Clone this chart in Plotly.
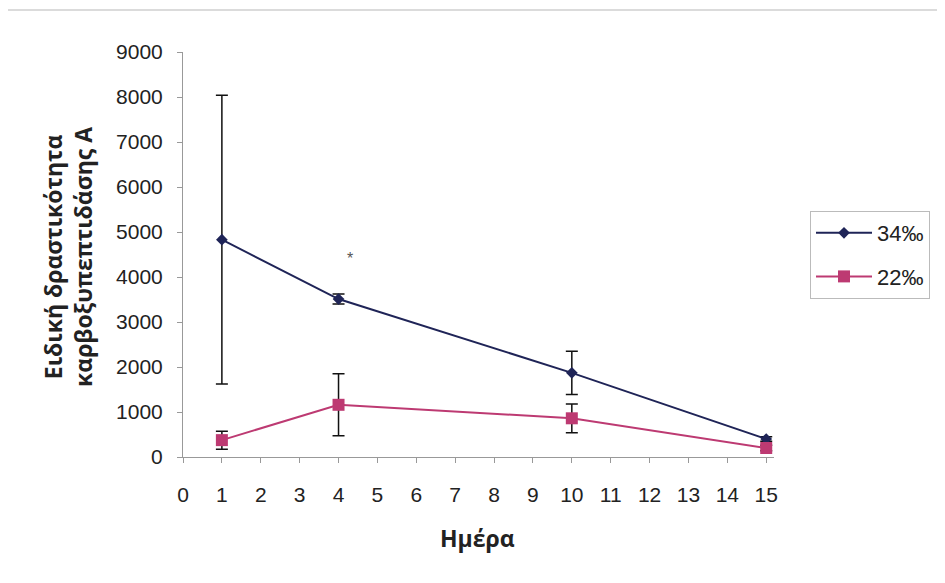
import plotly.graph_objects as go

days = [1, 4, 10, 15]
s34_values = [4830, 3510, 1870, 400]
s34_errors = [3210, 110, 480, 50]
s22_values = [375, 1160, 860, 200]
s22_errors = [200, 690, 320, 60]
series_names = ["34‰", "22‰"]
x_ticks = list(range(0, 16))
y_ticks = list(range(0, 10000, 1000))

blue = "#1f2457"
pink = "#bd3a72"

# page offset (body margin) compensation
OX, OY = 8, 8
L = 183 - OX
T = 52 - OY
PW, PH = 591, 405

def px(xp):
    return (xp - OX - L) / PW

def py(yp):
    return (T + PH - (yp - OY)) / PH

fig = go.Figure()
fig.add_trace(go.Scatter(
    x=days, y=s34_values, name=series_names[0], mode="lines+markers", legendgroup="a",
    line=dict(color=blue, width=2),
    marker=dict(symbol="diamond", size=9, color=blue),
    error_y=dict(type="data", array=s34_errors, color="#111111", thickness=1.5, width=6),
))
fig.add_trace(go.Scatter(
    x=days, y=s22_values, name=series_names[1], mode="lines+markers", legendgroup="b",
    line=dict(color=pink, width=2),
    marker=dict(symbol="square", size=12, color=pink),
    error_y=dict(type="data", array=s22_errors, color="#111111", thickness=1.5, width=6),
))

fig.add_annotation(x=4.3, y=4420, text="*", showarrow=False,
                   font=dict(size=16, color="#555555", family="Liberation Sans, Arial"))

fig.add_annotation(xref="paper", yref="paper", x=px(68), y=py(257), xanchor="center", yanchor="middle",
                   text="<b>Ειδική δραστικότητα<br>καρβοξυπεπτιδάσης Α</b>",
                   textangle=-90, showarrow=False,
                   font=dict(size=23, color="#222222", family="Open Sans, Noto Sans"))
fig.add_annotation(xref="paper", yref="paper", x=px(477), y=py(538), xanchor="center", yanchor="middle",
                   text="<b>Ημέρα</b>", showarrow=False,
                   font=dict(size=23, color="#222222", family="Open Sans, Noto Sans"))

fig.add_shape(type="rect", xref="paper", yref="paper",
              x0=px(7), x1=px(970), y0=py(620), y1=py(10),
              line=dict(color="#cfcfcf", width=1.5), layer="below")

fig.update_layout(
    width=945, height=583,
    margin=dict(l=L, r=945 - L - PW, t=T, b=583 - T - PH),
    paper_bgcolor="white", plot_bgcolor="white",
    font=dict(family="Liberation Sans, Arial", size=21, color="#222222"),
    showlegend=True,
    legend=dict(x=px(810), y=py(211), xanchor="left", yanchor="top",
                bordercolor="#bbbbbb", borderwidth=1, font=dict(size=22),
                tracegroupgap=12, itemwidth=56),
    xaxis=dict(range=[0, 15.2], tickvals=x_ticks, ticks="outside", ticklen=5,
               tickcolor="#999999", showline=True, linecolor="#999999", linewidth=1,
               showgrid=False, zeroline=False, tickfont=dict(size=21),
               ticklabelstandoff=14),
    yaxis=dict(range=[0, 9000], tickvals=y_ticks, ticks="outside", ticklen=5,
               tickcolor="#999999", showline=True, linecolor="#999999", linewidth=1,
               showgrid=False, zeroline=False, tickfont=dict(size=21),
               ticklabelstandoff=10),
)

fig.write_html("out.html")
